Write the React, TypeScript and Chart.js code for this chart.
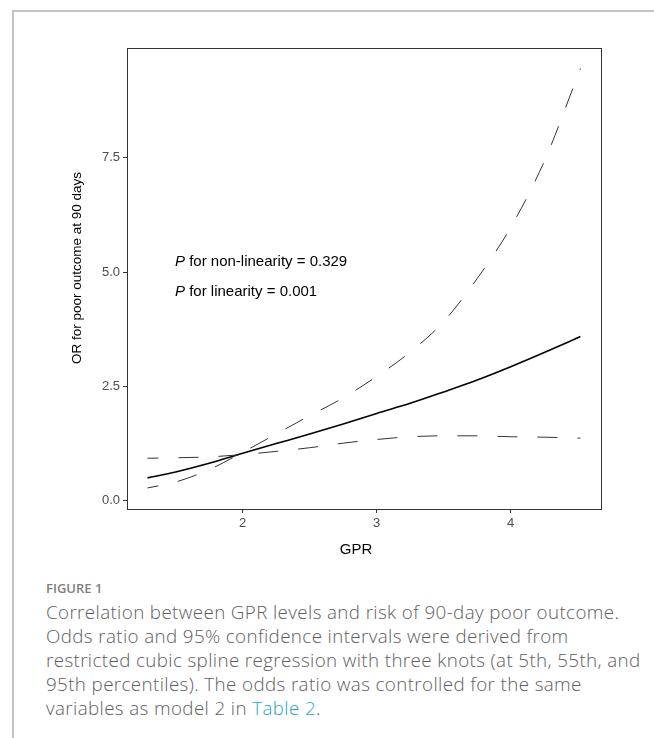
import React, { useEffect, useRef } from 'react';
import { Chart, registerables } from 'chart.js';

Chart.register(...registerables);

// ---- data ----
const gpr = [1.29, 1.5, 1.75, 2.0, 2.25, 2.5, 2.75, 3.0, 3.25, 3.5, 3.75, 4.0, 4.25, 4.52];
const orEstimate = [0.5, 0.63, 0.82, 1.04, 1.25, 1.46, 1.68, 1.91, 2.13, 2.38, 2.64, 2.93, 3.24, 3.59];
const upperCI = [0.28, 0.41, 0.68, 1.06, 1.46, 1.86, 2.25, 2.72, 3.25, 3.92, 4.86, 5.98, 7.42, 9.45];
const lowerCI = [0.93, 0.94, 0.96, 1.01, 1.08, 1.16, 1.26, 1.34, 1.4, 1.42, 1.42, 1.4, 1.39, 1.37];
const xTicks = [2, 3, 4];
const yTicks = [0, 2.5, 5, 7.5];
const xTitle = 'GPR';
const yTitle = 'OR for poor outcome at 90 days';
const pLabels = [' for non-linearity = 0.329', ' for linearity = 0.001'];

const captionLines = [
  'Correlation between GPR levels and risk of 90-day poor outcome.',
  'Odds ratio and 95% confidence intervals were derived from',
  'restricted cubic spline regression with three knots (at 5th, 55th, and',
  '95th percentiles). The odds ratio was controlled for the same',
];

const FONT = '"Liberation Sans", Arial, sans-serif';

const overlayPlugin = {
  id: 'overlay',
  afterDraw(chart: any) {
    const { ctx, chartArea } = chart;
    const ca = chartArea;
    ctx.save();
    // panel border
    ctx.strokeStyle = '#333333';
    ctx.lineWidth = 1;
    ctx.strokeRect(Math.round(ca.left) + 0.5, Math.round(ca.top) + 0.5, Math.round(ca.right - ca.left) - 1, Math.round(ca.bottom - ca.top));
    // annotations
    ctx.fillStyle = '#000';
    ctx.textBaseline = 'middle';
    ctx.textAlign = 'left';
    const ax = ca.left + 48;
    const ys = [ca.top + 213.7, ca.top + 244.3];
    pLabels.forEach((t, i) => {
      ctx.font = `italic 15px ${FONT}`;
      ctx.fillText('P', ax, ys[i]);
      const w = ctx.measureText('P').width;
      ctx.font = `15px ${FONT}`;
      ctx.fillText(t, ax + w, ys[i]);
    });
    // axis titles
    ctx.textAlign = 'center';
    ctx.font = `15px ${FONT}`;
    ctx.fillText(xTitle, ca.left + 229, ca.bottom + 41);
    ctx.font = `13.5px ${FONT}`;
    ctx.translate(ca.left - 50, ca.top + 220);
    ctx.rotate(-Math.PI / 2);
    ctx.fillText(yTitle, 0, 0);
    ctx.restore();
  },
};

export default function App() {
  const ref = useRef<HTMLCanvasElement>(null);
  useEffect(() => {
    if (!ref.current) return;
    const pts = (ys: number[]) => gpr.map((x, i) => ({ x, y: ys[i] }));
    const chart = new Chart(ref.current, {
      type: 'line',
      data: {
        datasets: [
          {
            data: pts(upperCI),
            borderColor: '#333333',
            borderWidth: 1,
            borderDash: [20, 20],
            borderDashOffset: 9,
            pointRadius: 0,
            cubicInterpolationMode: 'monotone',
          },
          {
            data: pts(lowerCI),
            borderColor: '#333333',
            borderWidth: 1,
            borderDash: [20, 20],
            borderDashOffset: 9,
            pointRadius: 0,
            cubicInterpolationMode: 'monotone',
          },
          {
            data: pts(orEstimate),
            borderColor: '#000000',
            borderWidth: 1.6,
            pointRadius: 0,
            cubicInterpolationMode: 'monotone',
          },
        ],
      },
      options: {
        animation: false,
        responsive: false,
        devicePixelRatio: 1,
        layout: { padding: { top: 28, right: 38, left: 0, bottom: 0 } },
        plugins: { legend: { display: false }, tooltip: { enabled: false } },
        scales: {
          x: {
            type: 'linear',
            min: 1.137,
            max: 4.681,
            afterBuildTicks: (s: any) => {
              s.ticks = xTicks.map((v) => ({ value: v }));
            },
            afterFit: (s: any) => {
              s.height = 56;
            },
            ticks: {
              color: '#4d4d4d',
              font: { size: 13, family: FONT },
              padding: 3,
              callback: (v: any) => String(v),
            },
            grid: { drawOnChartArea: false, tickLength: 4, color: '#333333', tickColor: '#333333' },
            border: { display: false },
          },
          y: {
            type: 'linear',
            min: -0.18,
            max: 9.9,
            afterBuildTicks: (s: any) => {
              s.ticks = yTicks.map((v) => ({ value: v }));
            },
            afterFit: (s: any) => {
              s.width = 107;
            },
            ticks: {
              color: '#4d4d4d',
              font: { size: 13, family: FONT },
              padding: 3,
              callback: (v: any) => Number(v).toFixed(1),
            },
            grid: { drawOnChartArea: false, tickLength: 4, color: '#333333', tickColor: '#333333' },
            border: { display: false },
          },
        },
      },
      plugins: [overlayPlugin],
    } as any);
    return () => chart.destroy();
  }, []);

  return (
    <div style={{ position: 'absolute', left: 0, top: 0, width: 654, height: 738, background: '#fff', overflow: 'hidden' }}>
      <div style={{ position: 'absolute', left: 12, top: 10, width: 642, height: 2, background: '#c4c4c4' }} />
      <div style={{ position: 'absolute', left: 12, top: 10, width: 2, height: 728, background: '#c4c4c4' }} />
      <canvas ref={ref} width={620} height={545} style={{ position: 'absolute', left: 20, top: 20 }} />
      <div
        style={{
          position: 'absolute',
          left: 46,
          top: 578,
          fontFamily: '"Open Sans", Lato, sans-serif',
          fontSize: 13,
          fontWeight: 600,
          color: '#808080',
          lineHeight: '20px',
        }}
      >
        FIGURE 1
      </div>
      <div
        style={{
          position: 'absolute',
          left: 46,
          top: 600,
          fontFamily: '"Open Sans", Lato, sans-serif',
          fontSize: 18.8,
          fontWeight: 300,
          letterSpacing: 0.38,
          color: '#5e5e5e',
          lineHeight: '24px',
          whiteSpace: 'nowrap',
        }}
      >
        {captionLines.map((l, i) => (
          <div key={i}>{l}</div>
        ))}
        <div>
          variables as model 2 in <span style={{ color: '#1fa5c3' }}>Table 2</span>.
        </div>
      </div>
    </div>
  );
}
